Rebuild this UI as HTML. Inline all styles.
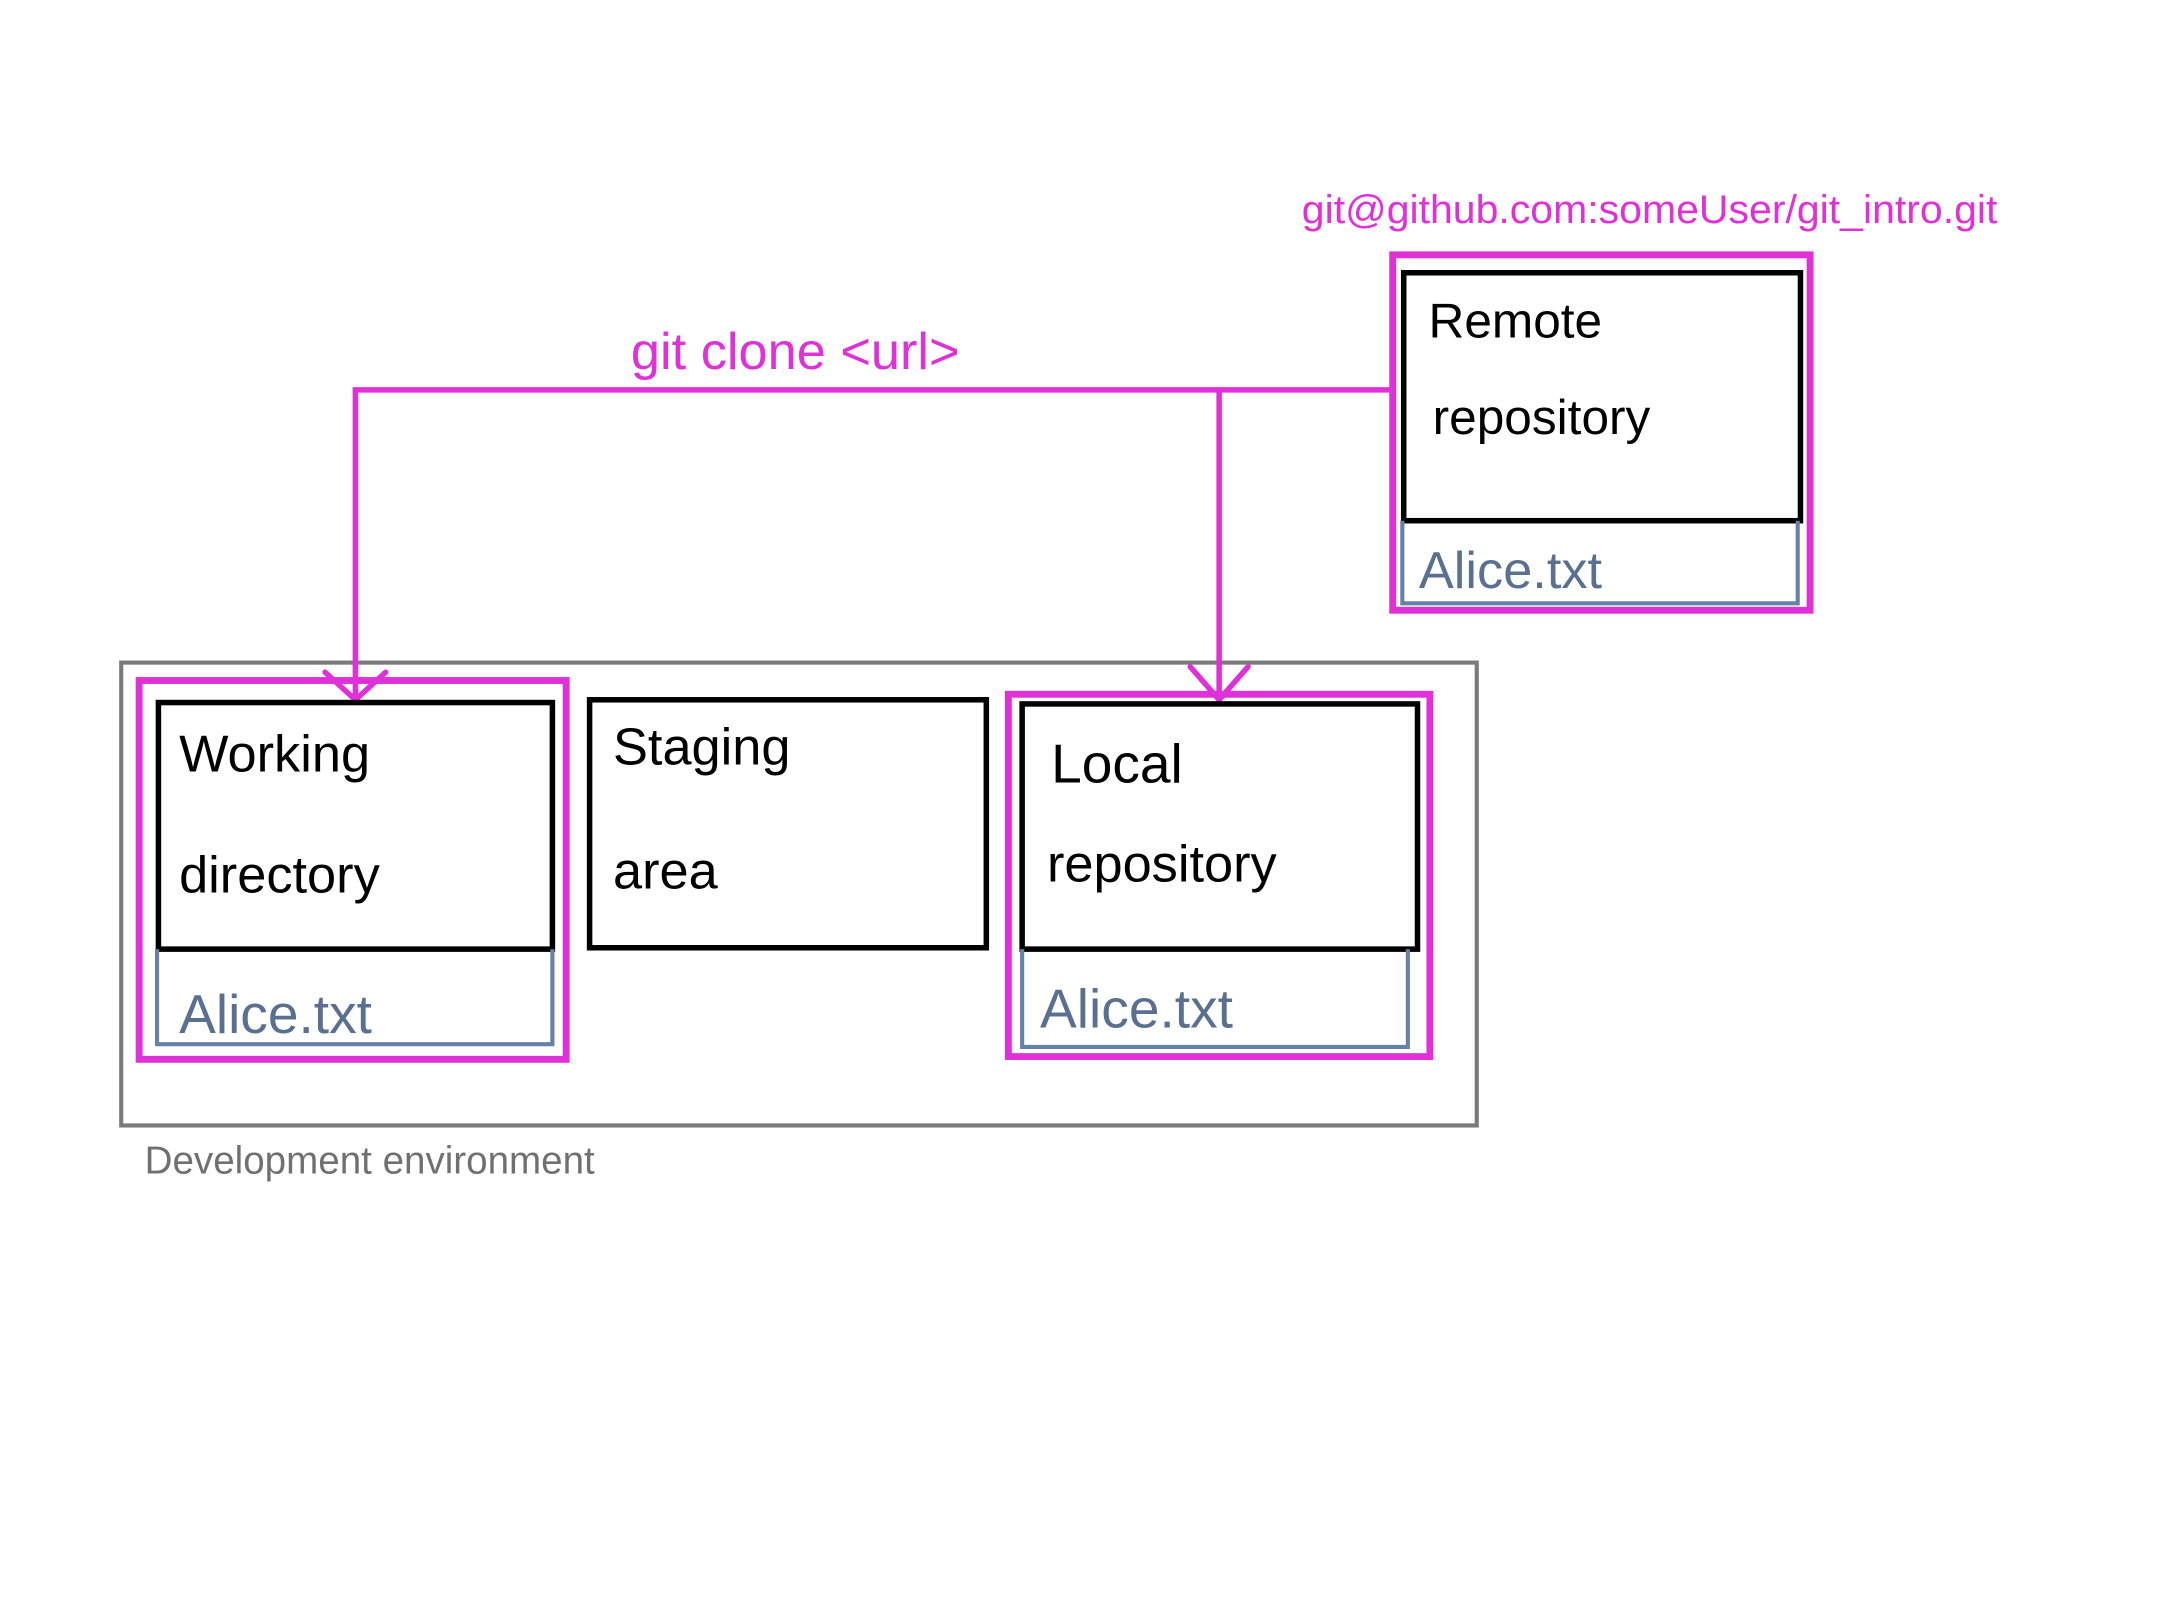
<!DOCTYPE html>
<html><head><meta charset="utf-8"><style>
html,body{margin:0;padding:0;background:#fff;}
svg{display:block;}
text{font-family:"Liberation Sans",sans-serif;}
</style></head><body>
<svg width="2160" height="1620" viewBox="0 0 1568 1176" xmlns="http://www.w3.org/2000/svg">
<rect width="1568" height="1176" fill="#fff"/>
<rect x="88" y="481" width="984" height="336" fill="none" stroke="#7a7a7a" stroke-width="3"/>
<text x="105" y="852" font-size="28" fill="#707070">Development environment</text>
<g stroke="#e030d8" stroke-width="4" fill="none" stroke-linecap="round">
<path d="M1010 283 L258 283 L258 508"/>
<path d="M885 283 L885 508"/>
<path d="M236 488 L258 508 L280 488"/>
<path d="M864 484 L885 508 L906 484"/>
</g>
<text x="458" y="268" font-size="38" fill="#e030d8">git clone &lt;url&gt;</text>
<text x="945" y="162" font-size="29" fill="#e030d8" textLength="505" lengthAdjust="spacingAndGlyphs">git@github.com:someUser/git_intro.git</text>
<rect x="1011" y="185" width="303" height="258" fill="none" stroke="#e030d8" stroke-width="5"/>
<rect x="1019" y="198" width="288" height="180" fill="none" stroke="#000" stroke-width="4"/>
<path d="M1018 378 L1018 438 L1305 438 L1305 378" fill="none" stroke="#6680a8" stroke-width="3"/>
<text x="1037" y="245" font-size="36" fill="#000">Remote</text>
<text x="1040" y="315" font-size="36" fill="#000">repository</text>
<text x="1030" y="427" font-size="38" fill="#5a7090">Alice.txt</text>
<rect x="101" y="494" width="310" height="275" fill="none" stroke="#e030d8" stroke-width="5"/>
<rect x="115" y="510" width="286" height="179" fill="none" stroke="#000" stroke-width="4"/>
<path d="M114 689 L114 758 L401 758 L401 689" fill="none" stroke="#6680a8" stroke-width="3"/>
<text x="130" y="560" font-size="38" fill="#000">Working</text>
<text x="130" y="648" font-size="38" fill="#000">directory</text>
<text x="130" y="750" font-size="40" fill="#5a7090">Alice.txt</text>
<rect x="428" y="508" width="288" height="180" fill="none" stroke="#000" stroke-width="4"/>
<text x="445" y="555" font-size="38" fill="#000">Staging</text>
<text x="445" y="645" font-size="38" fill="#000">area</text>
<rect x="732" y="504" width="306" height="263" fill="none" stroke="#e030d8" stroke-width="5"/>
<rect x="742" y="511" width="287" height="178" fill="none" stroke="#000" stroke-width="4"/>
<path d="M742 689 L742 760 L1022 760 L1022 689" fill="none" stroke="#6680a8" stroke-width="3"/>
<text x="763" y="568" font-size="40" fill="#000">Local</text>
<text x="760" y="640" font-size="38" fill="#000">repository</text>
<text x="755" y="746" font-size="40" fill="#5a7090">Alice.txt</text>
</svg>
</body></html>
